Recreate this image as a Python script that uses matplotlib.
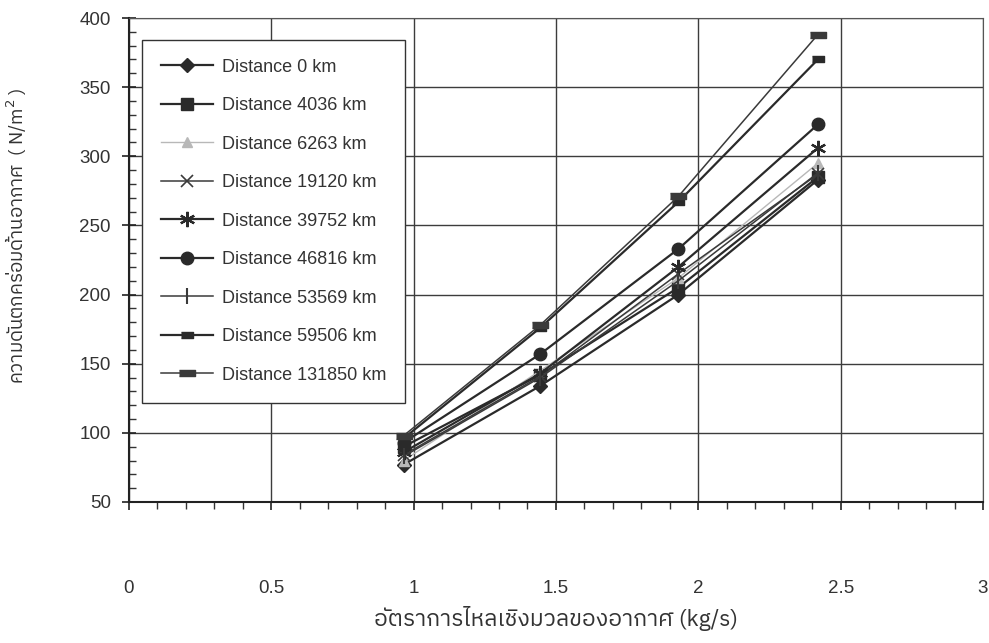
#Gráfica de caída de presión del lado del aire
import numpy as np
import matplotlib.pyplot as plt
from matplotlib.ticker import MultipleLocator

plt.rcParams['font.family'] = ['Liberation Sans', 'IBM Plex Sans Thai', 'DejaVu Sans']
thai = ['IBM Plex Sans Thai', 'Liberation Sans', 'DejaVu Sans']

#Datos
flujo = [0.965, 1.445, 1.93, 2.42]
etiquetas = ["Distance 0 km", "Distance 4036 km", "Distance 6263 km", "Distance 19120 km",
             "Distance 39752 km", "Distance 46816 km", "Distance 53569 km", "Distance 59506 km",
             "Distance 131850 km"]
d0 = [77, 134, 200, 283]
d4036 = [90, 142, 205, 285]
d6263 = [80, 145, 212, 295]
d19120 = [84, 141, 215, 287]
d39752 = [86, 143, 220, 306]
d46816 = [93, 157, 233, 323]
d53569 = [83, 140, 210, 288]
d59506 = [96, 176, 267, 370]
d131850 = [98, 178, 271, 388]

series = [d0, d4036, d6263, d19120, d39752, d46816, d53569, d59506, d131850]

rect_small = [(-1, -0.45), (1, -0.45), (1, 0.45), (-1, 0.45)]
rect_big = [(-1, -0.4), (1, -0.4), (1, 0.4), (-1, 0.4)]
estilos = [
    dict(marker="D", ms=7, color="#2a2a2a", lw=1.6),
    dict(marker="s", ms=8, color="#2a2a2a", lw=1.6),
    dict(marker="^", ms=7, color="#b8b8b8", lw=1.0),
    dict(marker="x", ms=9, mew=1.2, color="#3a3a3a", lw=1.1),
    dict(marker=(6, 2, 0), ms=11, mew=1.6, color="#2a2a2a", lw=1.6),
    dict(marker="o", ms=9, color="#2a2a2a", lw=1.6),
    dict(marker="|", ms=12, mew=1.5, color="#3a3a3a", lw=1.1),
    dict(marker=rect_small, ms=9, color="#2a2a2a", lw=1.6),
    dict(marker=rect_big, ms=12, color="#3a3a3a", lw=1.1),
]

fig = plt.figure(figsize=(9.89, 6.43), dpi=100)
ax = fig.add_axes([0.1304, 0.2193, 0.8635, 0.7527])

for y, lab, st in zip(series, etiquetas, estilos):
    ax.plot(flujo, y, label=lab, **st)

ax.set_xlim(0, 3)
ax.set_ylim(50, 400)
ax.xaxis.set_major_locator(MultipleLocator(0.5))
ax.xaxis.set_minor_locator(MultipleLocator(0.1))
ax.yaxis.set_major_locator(MultipleLocator(50))
ax.yaxis.set_minor_locator(MultipleLocator(10))
ax.set_xticks([0, 0.5, 1, 1.5, 2, 2.5, 3], ["0", "0.5", "1", "1.5", "2", "2.5", "3"])
ax.grid(which="major", color="#3c3c3c", lw=1.0)
ax.set_axisbelow(True)

for s in ax.spines.values():
    s.set_color("#555555")
ax.spines["left"].set_color("#222222")
ax.spines["bottom"].set_color("#222222")
ax.spines["left"].set_linewidth(1.5)
ax.spines["bottom"].set_linewidth(1.5)

ax.tick_params(axis="y", which="major", direction="inout", length=10, width=1.2,
               labelsize=13.5, colors="#222222", labelcolor="#333333", pad=8)
ax.tick_params(axis="y", which="minor", direction="in", length=5, width=1.0, colors="#333333")
ax.tick_params(axis="x", which="major", direction="out", length=6, width=1.2,
               labelsize=13.5, colors="#222222", labelcolor="#333333", pad=50)
ax.tick_params(axis="x", which="minor", direction="out", length=5, width=1.0, colors="#333333")

ax.set_xlabel("อัตราการไหลเชิงมวลของอากาศ (kg/s)", fontsize=16.5, color="#333333", family=thai)
ax.xaxis.set_label_coords(0.5, -0.215)
ax.set_ylabel(r"ความดันตกคร่อมด้านอากาศ  ( N/m$^2$ )", fontsize=13.5, color="#333333", family=thai)
ax.yaxis.set_label_coords(-0.118, 0.55)

leg = ax.legend(loc="upper left", bbox_to_anchor=(0.015, 0.955), borderaxespad=0,
                fontsize=13, handlelength=2.9, labelspacing=1.19, fancybox=False,
                edgecolor="#333333", framealpha=1, borderpad=1.05, handletextpad=0.5)
leg.get_frame().set_linewidth(1.0)
for t in leg.get_texts():
    t.set_color("#333333")

plt.savefig("out.png", dpi=100)
